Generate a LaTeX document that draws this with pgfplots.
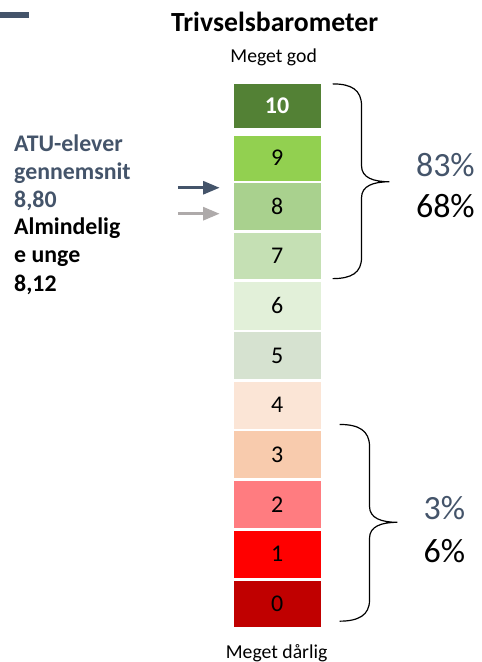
\documentclass[border=0pt]{standalone}
\usepackage{fontspec}
\setmainfont{Carlito}
\usepackage{pgfplots}
\pgfplotsset{compat=1.18}
\usetikzlibrary{arrows.meta}
\definecolor{slate}{HTML}{44546A}
\definecolor{grayarrow}{HTML}{AEAAAA}
\definecolor{c10}{HTML}{538135}
\definecolor{c9}{HTML}{92D050}
\definecolor{c8}{HTML}{A9D18E}
\definecolor{c7}{HTML}{C5E0B4}
\definecolor{c6}{HTML}{E2F0D9}
\definecolor{c5}{HTML}{D6E2D0}
\definecolor{c4}{HTML}{FBE5D6}
\definecolor{c3}{HTML}{F8CBAD}
\definecolor{c2}{HTML}{FF7C80}
\definecolor{c1}{HTML}{FF0000}
\definecolor{c0}{HTML}{C00000}
\begin{document}
\begin{tikzpicture}
\begin{axis}[
  scale only axis, width=361.5pt, height=496.5pt,
  xmin=0, xmax=482, ymin=0, ymax=662, y dir=reverse,
  hide axis, clip=false]
\path (axis cs:0,0) (axis cs:482,662);
% top-left decoration
\fill[slate] (axis cs:0,11.7) rectangle (axis cs:29,18.3);
% boxes (score: top, bottom)
\addplot[fill=c10, draw=none] coordinates {(234,84) (321,84) (321,128) (234,128)} -- cycle;
\addplot[fill=c9,  draw=none] coordinates {(234,136) (321,136) (321,181) (234,181)} -- cycle;
\addplot[fill=c8,  draw=none] coordinates {(234,183.7) (321,183.7) (321,230) (234,230)} -- cycle;
\addplot[fill=c7,  draw=none] coordinates {(234,233) (321,233) (321,279.5) (234,279.5)} -- cycle;
\addplot[fill=c6,  draw=none] coordinates {(234,282.7) (321,282.7) (321,330) (234,330)} -- cycle;
\addplot[fill=c5,  draw=none] coordinates {(234,332.7) (321,332.7) (321,379.5) (234,379.5)} -- cycle;
\addplot[fill=c4,  draw=none] coordinates {(234,382.7) (321,382.7) (321,429.5) (234,429.5)} -- cycle;
\addplot[fill=c3,  draw=none] coordinates {(234,432) (321,432) (321,479) (234,479)} -- cycle;
\addplot[fill=c2,  draw=none] coordinates {(234,481.7) (321,481.7) (321,529) (234,529)} -- cycle;
\addplot[fill=c1,  draw=none] coordinates {(234,531.7) (321,531.7) (321,578.7) (234,578.7)} -- cycle;
\addplot[fill=c0,  draw=none] coordinates {(234,581.7) (321,581.7) (321,628) (234,628)} -- cycle;
% box labels
\begin{scope}[every node/.style={anchor=base, inner sep=0pt, font=\fontsize{18}{21}\selectfont}]
\node[text=white, font=\fontsize{18}{21}\selectfont\bfseries] at (axis cs:277.5,114) {10};
\node at (axis cs:277.5,166) {9};
\node at (axis cs:277.5,214.5) {8};
\node at (axis cs:277.5,264) {7};
\node at (axis cs:277.5,314) {6};
\node at (axis cs:277.5,363.5) {5};
\node at (axis cs:277.5,413.5) {4};
\node at (axis cs:277.5,463) {3};
\node at (axis cs:277.5,513) {2};
\node at (axis cs:277.5,562.5) {1};
\node at (axis cs:277.5,612.5) {0};
\end{scope}
% titles
\node[anchor=base, inner sep=0pt, font=\fontsize{20.8}{25}\selectfont\bfseries] at (axis cs:275,31.5) {Trivselsbarometer};
\node[anchor=base, inner sep=0pt, font=\fontsize{14.8}{18}\selectfont] at (axis cs:274,62.5) {Meget god};
\node[anchor=base, inner sep=0pt, font=\fontsize{14.8}{18}\selectfont] at (axis cs:277,659.5) {Meget dårlig};
% left text
\begin{scope}[every node/.style={anchor=base west, inner sep=0pt, font=\fontsize{17.9}{21}\selectfont\bfseries}]
\node[text=slate] at (axis cs:14,151.5) {ATU-elever};
\node[text=slate] at (axis cs:14,179.5) {gennemsnit};
\node[text=slate] at (axis cs:14,207.3) {8,80};
\node at (axis cs:14,235.3) {Almindelig};
\node at (axis cs:14,263.3) {e unge};
\node at (axis cs:14,291.5) {8,12};
\end{scope}
% arrows
\draw[slate, line width=2.2pt, -{Triangle[length=12.5pt, width=9.75pt]}] (axis cs:178,188) -- (axis cs:220,188);
\draw[grayarrow, line width=2.2pt, -{Triangle[length=12.5pt, width=9.75pt]}] (axis cs:178,214) -- (axis cs:220,214);
% braces
\draw[line width=0.9pt] (axis cs:333,84) .. controls (axis cs:352,84) and (axis cs:362,90) .. (axis cs:362,106)
  -- (axis cs:362,166) .. controls (axis cs:362,178) and (axis cs:374,182) .. (axis cs:390,182)
  .. controls (axis cs:374,182) and (axis cs:362,186) .. (axis cs:362,198)
  -- (axis cs:362,258) .. controls (axis cs:362,273) and (axis cs:352,279) .. (axis cs:333,279);
\draw[line width=0.9pt] (axis cs:340,425) .. controls (axis cs:359,425) and (axis cs:370,431) .. (axis cs:370,447)
  -- (axis cs:370,507) .. controls (axis cs:370,519) and (axis cs:382,523) .. (axis cs:398,523)
  .. controls (axis cs:382,523) and (axis cs:370,527) .. (axis cs:370,539)
  -- (axis cs:370,601) .. controls (axis cs:370,616) and (axis cs:359,622) .. (axis cs:340,622);
% percentages
\begin{scope}[every node/.style={anchor=base, inner sep=0pt, font=\fontsize{25.5}{30}\selectfont}]
\node[text=slate] at (axis cs:446,176.7) {83\%};
\node at (axis cs:446,218) {68\%};
\node[text=slate] at (axis cs:445,520) {3\%};
\node at (axis cs:445,563) {6\%};
\end{scope}
\end{axis}
\end{tikzpicture}
\end{document}
